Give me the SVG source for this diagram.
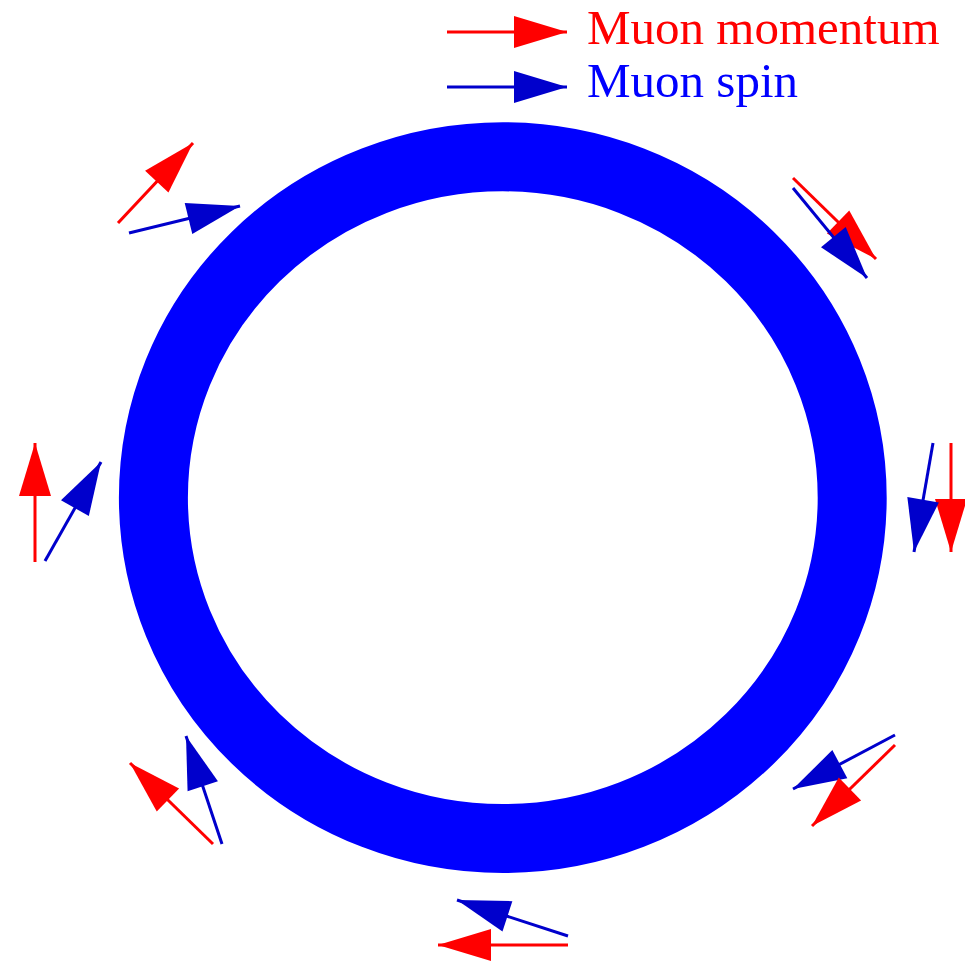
<svg xmlns="http://www.w3.org/2000/svg" width="965" height="965" viewBox="0 0 965 965">
<style>
.mom{stroke:#ff0000;stroke-width:3;fill:none;marker-end:url(#hr)}
.spin{stroke:#0000cc;stroke-width:3;fill:none;marker-end:url(#hb)}
.lbl{font-family:"Liberation Serif","Times New Roman",serif;font-size:49px}
</style>
<defs>
<marker id="hr" markerUnits="userSpaceOnUse" markerWidth="53" markerHeight="32" refX="53" refY="16" orient="auto" overflow="visible"><path d="M0,0 L53,16 L0,32 Z" fill="#ff0000"/></marker>
<marker id="hb" markerUnits="userSpaceOnUse" markerWidth="53" markerHeight="32" refX="53" refY="16" orient="auto" overflow="visible"><path d="M0,0 L53,16 L0,32 Z" fill="#0000cc"/></marker>
</defs>
<rect width="965" height="965" fill="#ffffff"/>
<g id="ring">
<ellipse cx="502.8" cy="497.7" rx="349.4" ry="340.9" fill="none" stroke="#0000ff" stroke-width="69"/>
</g>
<g id="legend">
<line class="mom" x1="447" y1="32" x2="567" y2="32"/>
<text class="lbl" x="587" y="44" fill="#ff0000">Muon momentum</text>
<line class="spin" x1="447" y1="87" x2="567" y2="87"/>
<text class="lbl" x="587" y="97" fill="#0000ff">Muon spin</text>
</g>
<g id="connectors">
<g id="pos-nw">
<line class="mom" x1="118" y1="223" x2="193" y2="143"/>
<line class="spin" x1="129" y1="233" x2="240" y2="206"/>
</g>
<g id="pos-ne">
<line class="mom" x1="793" y1="178" x2="876" y2="259"/>
<line class="spin" x1="793" y1="188" x2="867" y2="278"/>
</g>
<g id="pos-w">
<line class="mom" x1="35" y1="562" x2="35" y2="443"/>
<line class="spin" x1="45" y1="561" x2="101" y2="462"/>
</g>
<g id="pos-e">
<line class="mom" x1="951" y1="443" x2="951" y2="552"/>
<line class="spin" x1="933" y1="443" x2="914" y2="552"/>
</g>
<g id="pos-se">
<line class="spin" x1="895" y1="735" x2="793" y2="789"/>
<line class="mom" x1="895" y1="745" x2="812" y2="826"/>
</g>
<g id="pos-sw">
<line class="mom" x1="213" y1="844" x2="130" y2="763"/>
<line class="spin" x1="222" y1="844" x2="186" y2="736"/>
</g>
<g id="pos-s">
<line class="mom" x1="568" y1="945" x2="438" y2="945"/>
<line class="spin" x1="568" y1="936" x2="457" y2="900"/>
</g>
</g>
</svg>
